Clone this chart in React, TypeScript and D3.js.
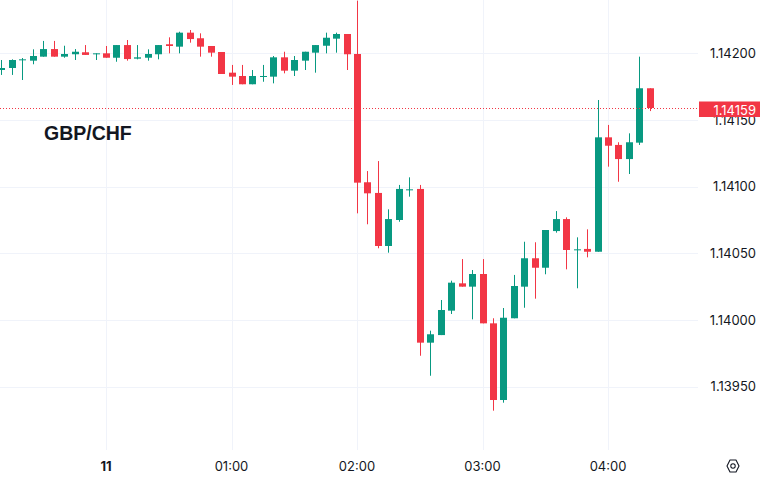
import React from "react";
import * as d3 from "d3";

// 5-minute candles, first one at 23:10 (day 10)
const opens = [
  1.141875, 1.14189, 1.141953, 1.141945, 1.141975, 1.142032, 1.141975, 1.141993, 1.142008, 1.141993,
  1.142, 1.141967, 1.142062, 1.14196, 1.141967, 1.141993, 1.142068, 1.14205, 1.142155, 1.142113,
  1.142055, 1.14201, 1.141855, 1.14183, 1.141768, 1.141828, 1.141825, 1.14197, 1.14187, 1.141945,
  1.142005, 1.142057, 1.14211, 1.142145, 1.141995, 1.141033, 1.140953, 1.140555, 1.14075, 1.140978,
  1.140983, 1.13983, 1.139887, 1.14007, 1.140275, 1.14025, 1.140345, 1.139975, 1.1394, 1.140013,
  1.14025, 1.140463, 1.140392, 1.140667, 1.140757, 1.140528, 1.140533, 1.140512, 1.14137, 1.141313,
  1.141207, 1.14133, 1.141738,
];
const highs = [
  1.14195, 1.141955, 1.141965, 1.14203, 1.142093, 1.142093, 1.142057, 1.142032, 1.142062, 1.142,
  1.142055, 1.142062, 1.1421, 1.142062, 1.14203, 1.142062, 1.14212, 1.142162, 1.142175, 1.14215,
  1.142055, 1.14201, 1.141913, 1.141913, 1.141875, 1.141913, 1.14198, 1.142012, 1.14198, 1.142012,
  1.142062, 1.142155, 1.142155, 1.142145, 1.142395, 1.141117, 1.141192, 1.14083, 1.141013, 1.14107,
  1.141013, 1.13992, 1.14015, 1.140295, 1.140457, 1.140375, 1.140457, 1.140013, 1.14009, 1.140338,
  1.140587, 1.140583, 1.140675, 1.140817, 1.14077, 1.14062, 1.14068, 1.14165, 1.141463, 1.141333,
  1.1414, 1.141975, 1.141738,
];
const lows = [
  1.141838, 1.141838, 1.1418, 1.141918, 1.141975, 1.141975, 1.141967, 1.14195, 1.141988, 1.14195,
  1.141967, 1.141937, 1.141945, 1.141955, 1.141945, 1.141955, 1.142, 1.142, 1.14208, 1.141975,
  1.141975, 1.141845, 1.141763, 1.141768, 1.141768, 1.141787, 1.141775, 1.14185, 1.14183, 1.141875,
  1.141855, 1.142, 1.142005, 1.141875, 1.1408, 1.140718, 1.140538, 1.140505, 1.140737, 1.140925,
  1.139732, 1.139582, 1.139887, 1.140045, 1.14025, 1.140005, 1.139975, 1.13932, 1.13938, 1.140013,
  1.140092, 1.14016, 1.140343, 1.140655, 1.14038, 1.140238, 1.14047, 1.140512, 1.14115, 1.141037,
  1.141095, 1.141313, 1.141567,
];
const closes = [
  1.14189, 1.14195, 1.141955, 1.14198, 1.142032, 1.141975, 1.141995, 1.142012, 1.141988, 1.142,
  1.141967, 1.142062, 1.141957, 1.14197, 1.141995, 1.142062, 1.142055, 1.142155, 1.142107, 1.14205,
  1.142005, 1.141845, 1.141825, 1.141768, 1.14183, 1.14183, 1.14197, 1.14187, 1.14195, 1.142012,
  1.142062, 1.142117, 1.142145, 1.141993, 1.14103, 1.14095, 1.140555, 1.140757, 1.140983, 1.14098,
  1.13983, 1.139893, 1.140075, 1.14028, 1.14025, 1.140345, 1.139975, 1.1394, 1.140017, 1.140255,
  1.140463, 1.140392, 1.140675, 1.140757, 1.140525, 1.14053, 1.140512, 1.14137, 1.141307, 1.141207,
  1.141333, 1.141738, 1.14159,
];
const yTicks = [1.1395, 1.14, 1.1405, 1.141, 1.1415, 1.142];
const xTickHours = [0, 1, 2, 3, 4];
const xTickLabels = ["11", "01:00", "02:00", "03:00", "04:00"];
const lastPrice = 1.14159;
const title = "GBP/CHF";

const W = 760;
const H = 479;
const UP = "#089981";
const DOWN = "#F23645";
const GRID = "#f0f3fa";
const TEXT = "#131722";
const FONT = "Inter, 'Noto Sans', sans-serif";

const startMs = Date.UTC(2024, 0, 10, 23, 10);
const times = opens.map((_, i) => new Date(startMs + i * 5 * 60000));
const xTickTimes = xTickHours.map((h) => new Date(Date.UTC(2024, 0, 11, h)));

export default function App() {
  const paneRight = 698;
  const paneBottom = 450;
  const x = d3
    .scaleUtc()
    .domain([new Date(Date.UTC(2024, 0, 11, 0)), new Date(Date.UTC(2024, 0, 11, 4))])
    .range([106, 608]);
  const y = d3.scaleLinear().domain([1.1395, 1.142]).range([386.67, 53.33]);
  const fmt = d3.format(".5f");
  const ly = y(lastPrice);

  return (
    <svg
      width={W}
      height={H}
      style={{ position: "absolute", left: 0, top: 0, background: "#fff" }}
      fontFamily={FONT}
    >
      <rect width={W} height={H} fill="#fff" />
      {/* grid */}
      {xTickTimes.map((t, i) => (
        <line
          key={"vg" + i}
          x1={Math.round(x(t)) + 0.5}
          x2={Math.round(x(t)) + 0.5}
          y1={0}
          y2={paneBottom}
          stroke={GRID}
        />
      ))}
      {yTicks.map((v, i) => (
        <line
          key={"hg" + i}
          x1={0}
          x2={paneRight}
          y1={Math.round(y(v)) + 0.5}
          y2={Math.round(y(v)) + 0.5}
          stroke={GRID}
        />
      ))}
      {/* title */}
      <text x={44} y={139.5} fontSize={19.5} fontWeight={700} fill={TEXT} fontFamily="'Liberation Sans', Arial, sans-serif">
        {title}
      </text>
      {/* candles */}
      {times.map((t, i) => {
        const o = opens[i];
        const c = closes[i];
        const col = c >= o ? UP : DOWN;
        const cx = Math.round(x(t));
        const yh = y(highs[i]);
        const yl = y(lows[i]);
        const top = y(Math.max(o, c));
        const bot = y(Math.min(o, c));
        return (
          <g key={"c" + i} fill={col}>
            <rect x={cx} width={1} y={yh} height={Math.max(1, yl - yh)} />
            <rect x={cx - 3} width={7} y={top} height={Math.max(1, bot - top)} />
          </g>
        );
      })}
      {/* last price line */}
      <line
        x1={0}
        x2={paneRight}
        y1={Math.round(ly) + 0.5}
        y2={Math.round(ly) + 0.5}
        stroke={DOWN}
        strokeDasharray="1 2"
      />
      {/* price axis */}
      {yTicks.map((v, i) => (
        <text key={"yl" + i} x={756} y={y(v) + 4.7} fontSize={13} textAnchor="end" fill={TEXT}>
          {fmt(v)}
        </text>
      ))}
      <rect x={699} y={101.5} width={61} height={15.5} fill={DOWN} />
      <text x={756} y={114.5} fontSize={13} textAnchor="end" fill="#fff">
        {fmt(lastPrice)}
      </text>
      {/* time axis */}
      {xTickTimes.map((t, i) => (
        <text
          key={"xl" + i}
          x={x(t)}
          y={471}
          fontSize={13}
          textAnchor="middle"
          fill={TEXT}
          fontWeight={i === 0 ? 700 : 400}
        >
          {xTickLabels[i]}
        </text>
      ))}
      {/* settings icon */}
      <g transform="translate(733,466)" fill="none" stroke={TEXT} strokeWidth={1.1}>
        <path d="M-3,-6 L3,-6 L6,0 L3,6 L-3,6 L-6,0 Z" strokeLinejoin="round" />
        <circle r={2.2} />
      </g>
    </svg>
  );
}
